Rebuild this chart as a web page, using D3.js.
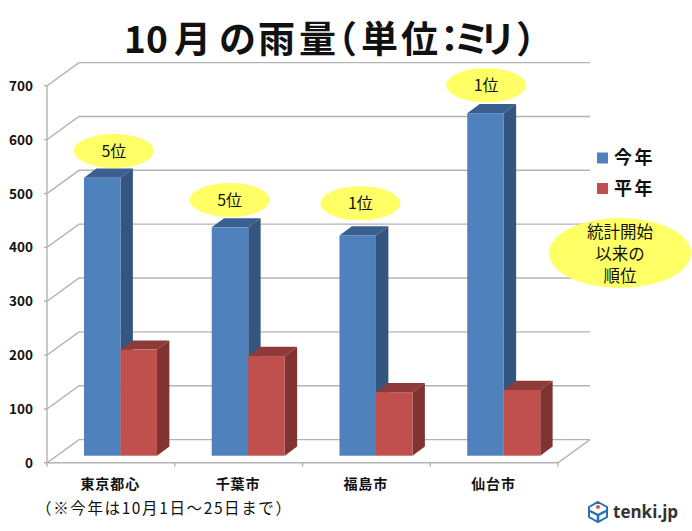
<!DOCTYPE html>
<html><head><meta charset="utf-8">
<script src="https://cdn.jsdelivr.net/npm/d3@7"></script>
<style>
html,body{margin:0;padding:0;background:#fff}
svg{display:block}
text{font-family:"Noto Sans CJK JP","Noto Sans",sans-serif;fill:#111}
</style></head><body>
<script>
const categories = ["東京都心","千葉市","福島市","仙台市"];
const thisYear = [516,424,409,636];
const normal = [197,185,118,122];
const ranks = ["5位","5位","1位","1位"];
const tickValues = [0,100,200,300,400,500,600,700];
const seriesNames = ["今年","平年"];
const rankBubbleValues = [579,488,482,701];
const rankBubbleShift = [0,-12,-9,-11];
const titleChars = "10月の雨量（単位：ミリ）";
const titleStarts = [124,146,174,219,258,299,320,361,401,431,453,479,516];

const W=692,H=531;
const svg=d3.select("body").append("svg").attr("width",W).attr("height",H);
const x=d3.scaleBand().domain(categories).range([47,558]).paddingInner(0.4286).paddingOuter(0.2143);
const y=d3.scaleLinear().domain([0,700]).range([462.8,85.8]);
const wallDX=32,wallDY=-23.2;
const frontDX=9.6,frontDY=-7.1, depthDX=12.4,depthDY=-9.2;
const grid="#b3b3b3";

const g=svg.append("g").attr("fill","none").attr("stroke",grid).attr("stroke-width",1.4);
tickValues.forEach(v=>{
  const Y=y(v);
  g.append("path").attr("d",`M44,${Y}H47L${47+wallDX},${Y+wallDY}H${558+wallDX}`);
});
g.append("path").attr("d",`M47,${y(700)}V${y(0)}H558L${558+wallDX},${y(0)+wallDY}`);
const catTicks=x.domain().map((c,i)=>47+i*x.step()).concat([558]);
catTicks.forEach(t=>g.append("path").attr("d",`M${t},${y(0)}V${y(0)+4}`));

const colors=[{f:"#4f81bd",t:"#3a5f8e",s:"#34557f"},{f:"#c0504d",t:"#8e3a38",s:"#7f3432"}];
function bar(sel,x0,w,v,c){
  const top=y(v)+frontDY,base=y(0)+frontDY;
  const X=x0+frontDX;
  sel.append("path").attr("fill",c.t).attr("d",`M${X},${top}l${depthDX},${depthDY}h${w}l${-depthDX},${-depthDY}z`);
  sel.append("path").attr("fill",c.s).attr("d",`M${X+w},${top}l${depthDX},${depthDY}V${base+depthDY}l${-depthDX},${-depthDY}z`);
  sel.append("rect").attr("fill",c.f).attr("x",X).attr("y",top).attr("width",w).attr("height",base-top);
}
const bars=svg.append("g");
categories.forEach((c,i)=>{
  const w=x.bandwidth()/2;
  bar(bars,x(c),w,thisYear[i],colors[0]);
  bar(bars,x(c)+w,w,normal[i],colors[1]);
});

const yl=svg.append("g").attr("font-size",13.5).attr("font-weight",700);
tickValues.forEach(v=>yl.append("text").attr("x",33).attr("y",y(v)+5).attr("text-anchor","end").text(v));

categories.forEach((c,i)=>{
  svg.append("text").attr("x",x(c)+x.bandwidth()/2-0.5).attr("y",489).attr("text-anchor","middle")
    .attr("font-size",14).attr("font-weight",700).attr("letter-spacing",1).text(c);
});

const yellow="#ffff66";
categories.forEach((c,i)=>{
  const cx=x(c)+x.bandwidth()/2+3+rankBubbleShift[i];
  const cy=y(rankBubbleValues[i]);
  svg.append("ellipse").attr("cx",cx).attr("cy",cy).attr("rx",40).attr("ry",17).attr("fill",yellow);
  svg.append("text").attr("x",cx).attr("y",cy+6).attr("text-anchor","middle").attr("font-size",16).text(ranks[i]);
});

svg.append("text").attr("x",titleStarts.join(" ")).attr("y",53).attr("font-size",37).attr("font-weight",700).text(titleChars);

seriesNames.forEach((n,i)=>{
  const Y=[158,188.5][i];
  svg.append("rect").attr("x",597).attr("y",Y-5.5).attr("width",11).attr("height",11).attr("fill",colors[i].f);
  svg.append("text").attr("x",614).attr("y",Y+6).attr("font-size",18).attr("font-weight",700).attr("letter-spacing",2.5).text(n);
});

svg.append("ellipse").attr("cx",620).attr("cy",253).attr("rx",71).attr("ry",35).attr("fill",yellow);
["統計開始","以来の","順位"].forEach((t,i)=>svg.append("text").attr("x",620).attr("y",[238,260,282][i]).attr("text-anchor","middle").attr("font-size",16.5).text(t));

svg.append("text").attr("x",36).attr("y",514).attr("font-size",15.5).attr("textLength",255).text("（※今年は10月1日～25日まで）");

const lg=svg.append("g").attr("transform","translate(598,512)");
lg.append("path").attr("d","M0,-10L9,-5V5L0,10L-9,5V-5Z").attr("fill","#fff").attr("stroke","#2a6fb5").attr("stroke-width",2);
lg.append("path").attr("d","M-8,-1L0,3L8,-1M0,3V9").attr("fill","none").attr("stroke","#2a6fb5").attr("stroke-width",2.5);
lg.append("circle").attr("cy",-5).attr("r",2).attr("fill","#d9534f");
svg.append("text").attr("x",613).attr("y",518).attr("font-size",17).attr("font-weight",700).style("font-family","'Open Sans',sans-serif").style("fill","#333").text("tenki.jp");
</script>
</body></html>
